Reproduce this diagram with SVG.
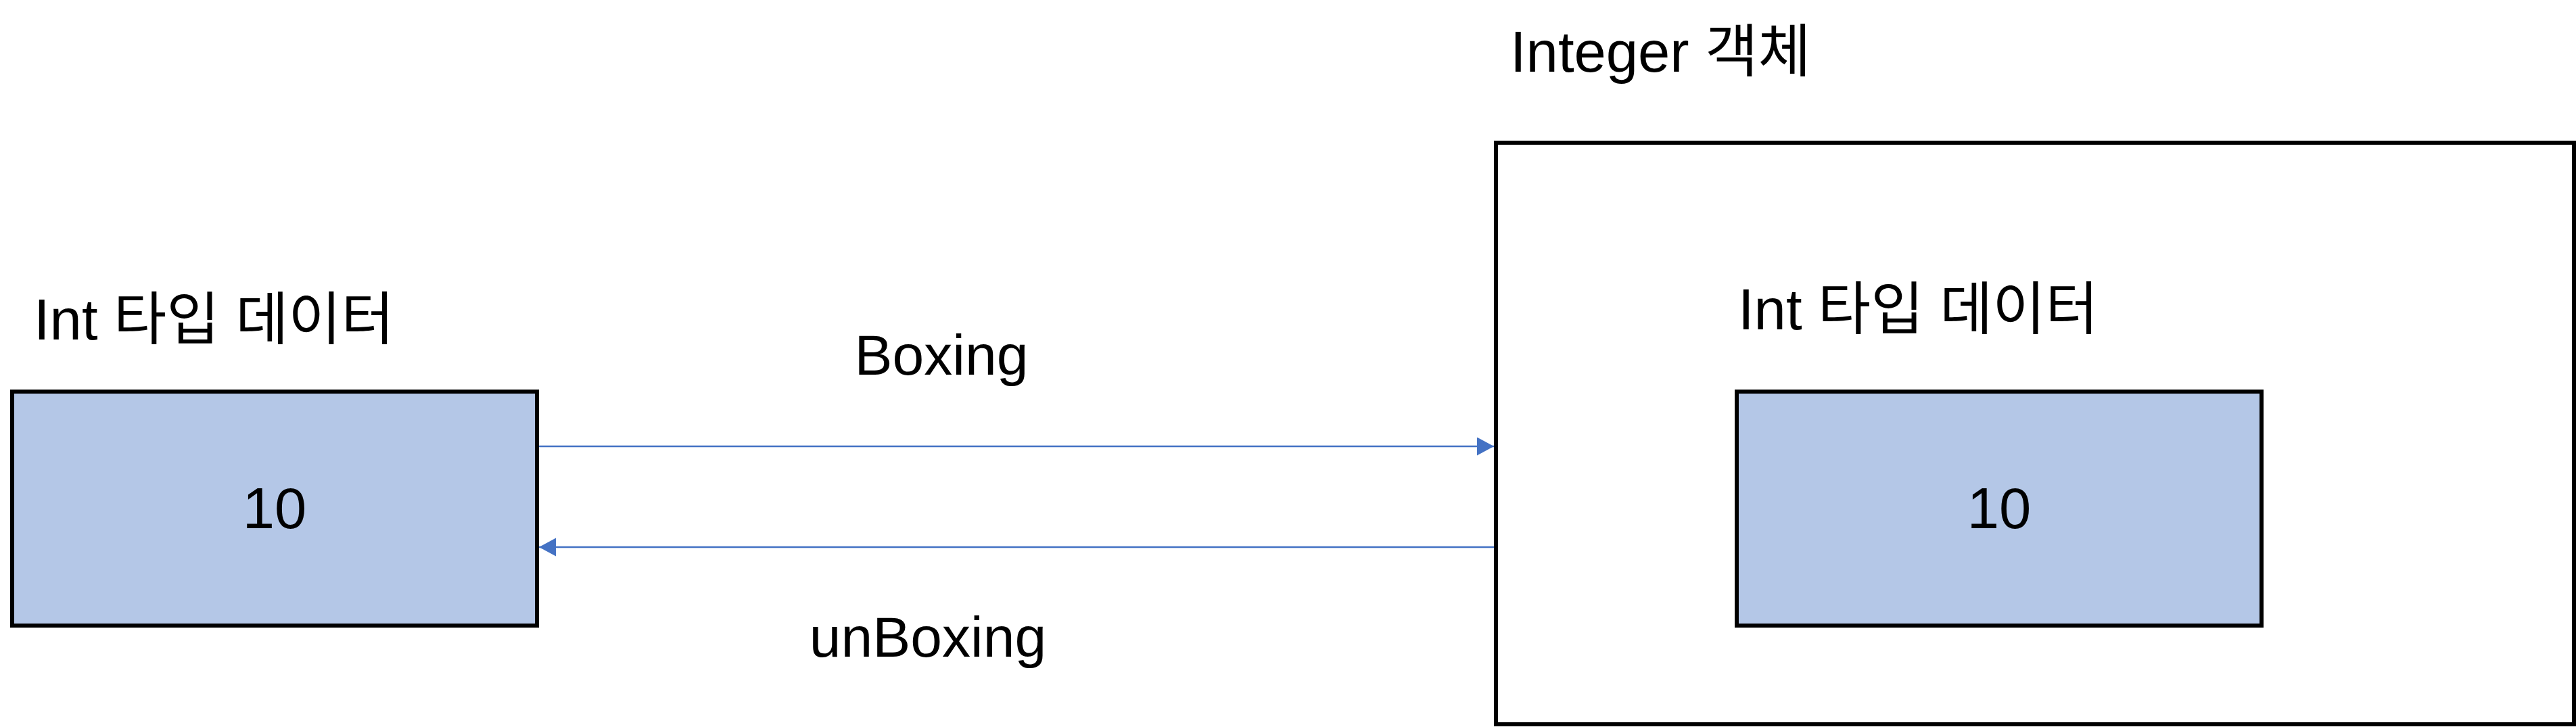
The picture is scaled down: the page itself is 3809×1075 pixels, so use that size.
<svg xmlns="http://www.w3.org/2000/svg" width="3809" height="1075" viewBox="0 0 3809 1075">
<style>
text{font-family:"Liberation Sans","Noto Sans CJK KR",Arial,sans-serif;font-size:85px;fill:#000}
.val{fill:#B4C7E7;stroke:#000;stroke-width:6}
.obj{fill:#fff;stroke:#000;stroke-width:6}
.conn{stroke:#4472C4;stroke-width:2.5;fill:none}
.mid{text-anchor:middle}
</style>
<defs>
<marker id="ah" markerUnits="userSpaceOnUse" markerWidth="26" markerHeight="28" refX="25" refY="13.5" orient="auto">
<path d="M0,0 L25,13.5 L0,27 Z" fill="#4472C4"/>
</marker>
</defs>
<rect width="3809" height="1075" fill="#fff"/>
<g id="int-data">
<text x="50" y="502">Int 타입 데이터</text>
<rect class="val" x="18" y="579" width="776" height="346"/>
<text class="mid" x="406" y="781">10</text>
</g>
<g id="integer-object">
<text x="2233" y="106">Integer 객체</text>
<rect class="obj" x="2212" y="211" width="1594" height="860"/>
<text x="2570" y="487">Int 타입 데이터</text>
<rect class="val" x="2568" y="579" width="776" height="346"/>
<text class="mid" x="2956" y="781">10</text>
</g>
<g id="connectors">
<line class="conn" x1="797" y1="660" x2="2209" y2="660" marker-end="url(#ah)"/>
<line class="conn" x1="2209" y1="809" x2="797" y2="809" marker-end="url(#ah)"/>
<text class="mid" x="1392" y="554" style="font-size:84px">Boxing</text>
<text class="mid" x="1372" y="971" style="font-size:84px">unBoxing</text>
</g>
</svg>
